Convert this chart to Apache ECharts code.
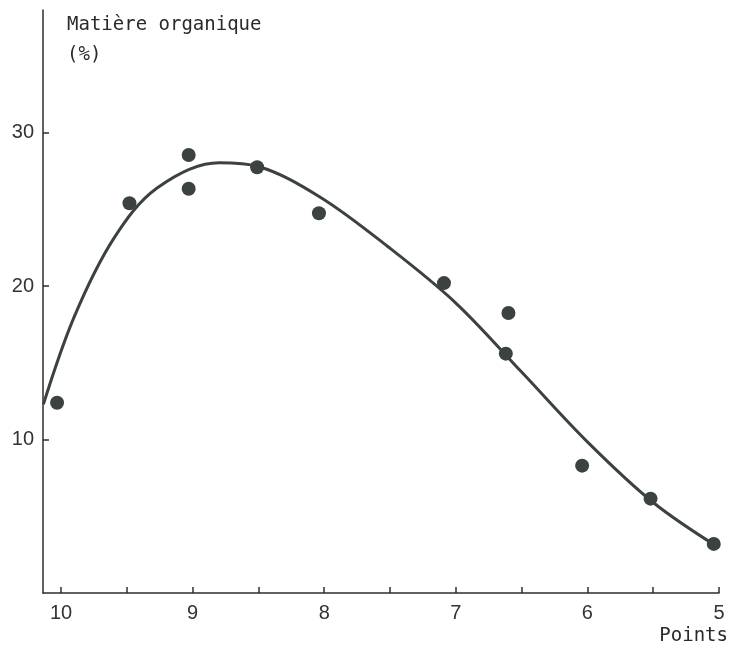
<!DOCTYPE html>
<html>
<head>
<meta charset="utf-8">
<script src="https://cdn.jsdelivr.net/npm/echarts@6/dist/echarts.min.js"></script>
<style>
  html, body { margin: 0; padding: 0; background: #fff; }
  #chart { width: 733px; height: 651px; }
</style>
</head>
<body>
<div id="chart"></div>
<script>
// measured samples (points score, organic matter %)
const sampleX = [10.03, 9.48, 9.03, 9.03, 8.51, 8.04, 7.09, 6.60, 6.62, 6.04, 5.52, 5.04];
const sampleY = [12.4, 25.4, 28.55, 26.35, 27.75, 24.75, 20.2, 18.25, 15.6, 8.3, 6.15, 3.2];

// fitted curve
const curveX = [10.134, 9.9, 9.6, 9.27, 8.8, 8.5, 8.03, 7.52, 7.0, 6.5, 6.0, 5.5, 5.0];
const curveY = [12.3, 18.0, 23.1, 26.4, 28.05, 27.8, 25.8, 22.6, 18.9, 14.4, 9.85, 5.9, 2.95];

const xTicks = [5, 5.5, 6, 6.5, 7, 7.5, 8, 8.5, 9, 9.5, 10];
const xLabels = [5, 6, 7, 8, 9, 10];
const yTicks = [10, 20, 30];

const ink = '#3b423f';
const axisInk = '#2e2e2e';

const chart = echarts.init(document.getElementById('chart'));

chart.setOption({
  backgroundColor: '#ffffff',
  animation: false,
  grid: { left: 43, right: 14, top: 10, bottom: 58 },
  xAxis: {
    type: 'value',
    min: 5,
    max: 10.137,
    inverse: true,
    splitLine: { show: false },
    axisLine: { show: true, lineStyle: { color: axisInk, width: 1.5 } },
    axisTick: { show: true, inside: true, length: 6, customValues: xTicks, lineStyle: { color: axisInk, width: 1.5 } },
    axisLabel: {
      customValues: xLabels,
      margin: 10,
      color: '#333',
      fontFamily: 'Liberation Sans',
      fontSize: 20
    }
  },
  yAxis: {
    type: 'value',
    min: 0,
    max: 38,
    splitLine: { show: false },
    axisLine: { show: true, lineStyle: { color: axisInk, width: 1.5 } },
    axisTick: { show: true, inside: true, length: 6, customValues: yTicks, lineStyle: { color: axisInk, width: 1.5 } },
    axisLabel: {
      customValues: yTicks,
      margin: 9,
      color: '#333',
      fontFamily: 'Liberation Sans',
      fontSize: 20
    }
  },
  graphic: [
    {
      type: 'text',
      left: 67,
      top: 10,
      style: {
        text: 'Matière organique\n(%)',
        font: '19px "DejaVu Sans Mono"',
        lineHeight: 30,
        fill: '#2a2a2a'
      }
    },
    {
      type: 'text',
      right: 5,
      top: 627,
      style: {
        text: 'Points',
        font: '19px "DejaVu Sans Mono"',
        fill: '#2a2a2a'
      }
    }
  ],
  series: [
    {
      type: 'line',
      data: curveX.map((x, i) => [x, curveY[i]]),
      smooth: 0.35,
      showSymbol: false,
      symbol: 'none',
      lineStyle: { color: ink, width: 3 },
      z: 2
    },
    {
      type: 'scatter',
      data: sampleX.map((x, i) => [x, sampleY[i]]),
      symbol: 'circle',
      symbolSize: 14,
      itemStyle: { color: ink, opacity: 1 },
      z: 3
    }
  ]
});
</script>
</body>
</html>
